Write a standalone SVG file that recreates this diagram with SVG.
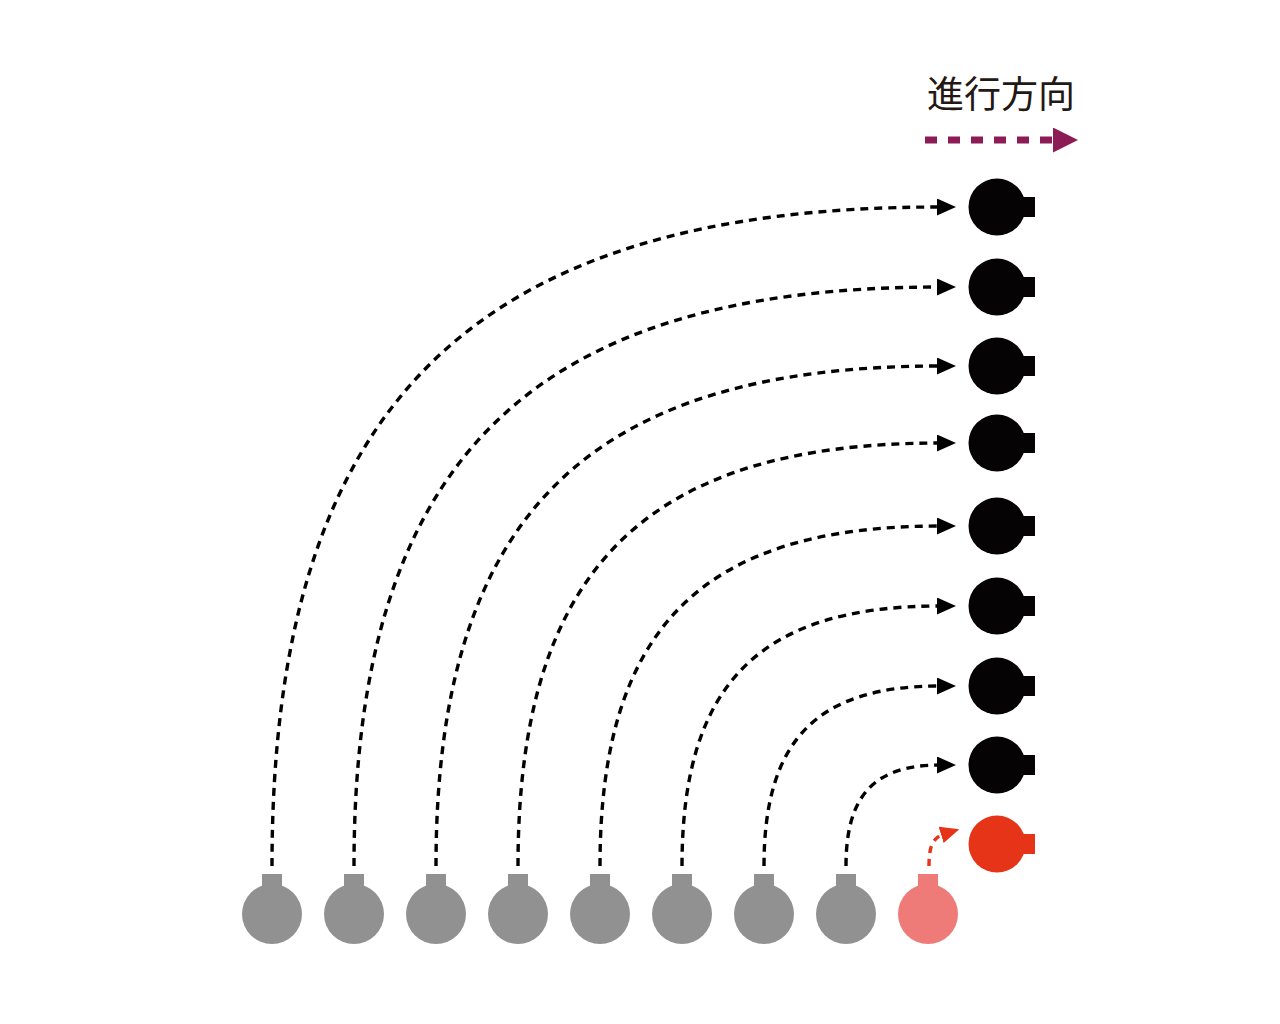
<svg xmlns="http://www.w3.org/2000/svg" xmlns:xlink="http://www.w3.org/1999/xlink" width="1280" height="1024" viewBox="0 0 1280 1024">
<style>
.title{font-family:"Liberation Sans","Noto Sans CJK JP",sans-serif;font-size:37px;fill:#231815}
.conn{fill:none;stroke:#000;stroke-width:3.4;stroke-dasharray:8 6}
.red{fill:none;stroke:#E63419;stroke-width:3.4;stroke-dasharray:7 6}
.dir{fill:none;stroke:#8C1C55;stroke-width:7;stroke-dasharray:12 11}
.blk{fill:#050303}
.gry{fill:#919191}
.pnk{fill:#EE7B78}
.rd{fill:#E63419}
</style>
<defs>
<marker id="ah" markerUnits="userSpaceOnUse" markerWidth="19" markerHeight="17" refX="3" refY="8.5" orient="auto">
<path d="M0,0 L19,8.5 L0,17 Z" fill="#000"/>
</marker>
<marker id="ahr" markerUnits="userSpaceOnUse" markerWidth="19" markerHeight="17" refX="3" refY="8.5" orient="auto">
<path d="M0,0 L19,8.5 L0,17 Z" fill="#E63419"/>
</marker>
<marker id="ahp" markerUnits="userSpaceOnUse" markerWidth="25" markerHeight="25" refX="2" refY="12.5" orient="auto">
<path d="M0,0 L25,12.5 L0,25 Z" fill="#8C1C55"/>
</marker>
<g id="top"><circle cx="0" cy="0" r="28.5"/><rect x="20" y="-10" width="18" height="20"/></g>
<g id="bot"><circle cx="0" cy="0" r="30"/><rect x="-10" y="-40" width="20" height="20"/></g>
</defs>
<g id="legend">
<text class="title" x="927" y="108">進行方向</text>
<path class="dir" d="M925,140 L1055,140" marker-end="url(#ahp)"/>
</g>
<g id="connectors">
<path class="conn" d="M272,866 C272,404.7 472.4,207 940,207" marker-end="url(#ah)"/>
<path class="conn" d="M354,866 C354,460.7 529.8,287 940,287" marker-end="url(#ah)"/>
<path class="conn" d="M436,866 C436,516 587.2,366 940,366" marker-end="url(#ah)"/>
<path class="conn" d="M518,866 C518,569.9 644.6,443 940,443" marker-end="url(#ah)"/>
<path class="conn" d="M600,866 C600,628 702,526 940,526" marker-end="url(#ah)"/>
<path class="conn" d="M682,866 C682,684 759.4,606 940,606" marker-end="url(#ah)"/>
<path class="conn" d="M764,866 C764,740 816.8,686 940,686" marker-end="url(#ah)"/>
<path class="conn" d="M846,866 C846,795.3 874.2,765 940,765" marker-end="url(#ah)"/>
<path class="red" d="M929,866 C929,850 931,838 944,834" marker-end="url(#ahr)"/>
</g>
<g id="t1" class="blk"><use href="#top" x="997" y="207"/></g>
<g id="t2" class="blk"><use href="#top" x="997" y="287"/></g>
<g id="t3" class="blk"><use href="#top" x="997" y="366"/></g>
<g id="t4" class="blk"><use href="#top" x="997" y="443"/></g>
<g id="t5" class="blk"><use href="#top" x="997" y="526"/></g>
<g id="t6" class="blk"><use href="#top" x="997" y="606"/></g>
<g id="t7" class="blk"><use href="#top" x="997" y="686"/></g>
<g id="t8" class="blk"><use href="#top" x="997" y="765"/></g>
<g id="t9" class="rd"><use href="#top" x="997" y="844"/></g>
<g id="b1" class="gry"><use href="#bot" x="272" y="914"/></g>
<g id="b2" class="gry"><use href="#bot" x="354" y="914"/></g>
<g id="b3" class="gry"><use href="#bot" x="436" y="914"/></g>
<g id="b4" class="gry"><use href="#bot" x="518" y="914"/></g>
<g id="b5" class="gry"><use href="#bot" x="600" y="914"/></g>
<g id="b6" class="gry"><use href="#bot" x="682" y="914"/></g>
<g id="b7" class="gry"><use href="#bot" x="764" y="914"/></g>
<g id="b8" class="gry"><use href="#bot" x="846" y="914"/></g>
<g id="b9" class="pnk"><use href="#bot" x="928" y="914"/></g>
</svg>
